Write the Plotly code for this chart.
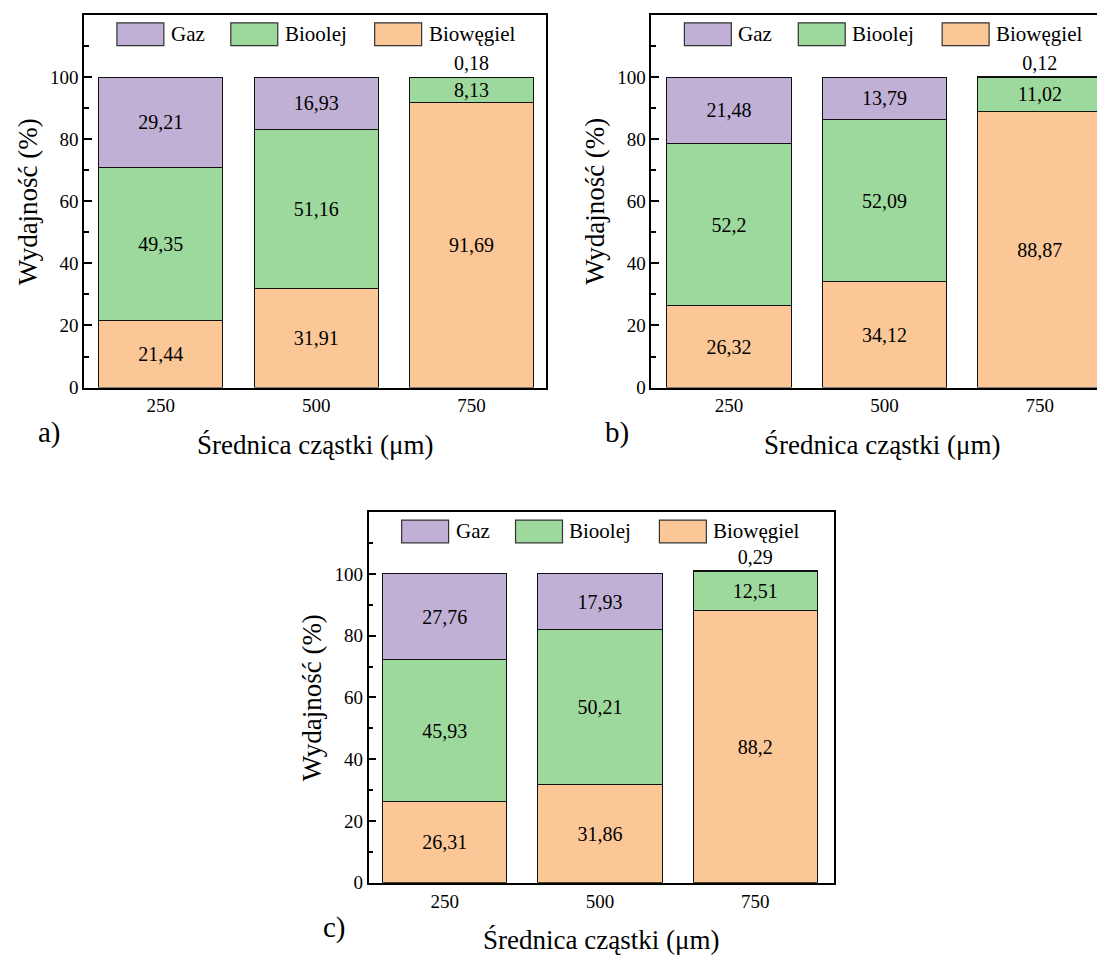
import plotly.graph_objects as go

# ---- data ----
categories = ["250", "500", "750"]
series_names = ["Biowęgiel", "Bioolej", "Gaz"]

a_biowegiel = [21.44, 31.91, 91.69]
a_bioolej = [49.35, 51.16, 8.13]
a_gaz = [29.21, 16.93, 0.18]

b_biowegiel = [26.32, 34.12, 88.87]
b_bioolej = [52.2, 52.09, 11.02]
b_gaz = [21.48, 13.79, 0.12]

c_biowegiel = [26.31, 31.86, 88.2]
c_bioolej = [45.93, 50.21, 12.51]
c_gaz = [27.76, 17.93, 0.29]

y_ticks = [0, 20, 40, 60, 80, 100]
y_minor = [10, 30, 50, 70, 90, 110]

colors = {"Gaz": "#C1B0D6", "Bioolej": "#9DD89D", "Biowęgiel": "#FBC797"}

OFF = 8  # page body margin
W, H = 1105 - OFF, 965 - OFF
FONT = "Liberation Serif"


def X(px):
    return (px - OFF) / W


def Y(py):
    return 1 - (py - OFF) / H


def fmt(v):
    return f"{v:g}".replace(".", ",")


def fnt(size):
    return dict(family=FONT, size=size, color="black")


panels = [
    ("a", (a_biowegiel, a_bioolej, a_gaz), 84, 546, 15, 392, [-0.495, 2.476]),
    ("b", (b_biowegiel, b_bioolej, b_gaz), 652, 1104, 15, 392, [-0.5, 2.407]),
    ("c", (c_biowegiel, c_bioolej, c_gaz), 369, 835, 518, 893, [-0.489, 2.508]),
]

fig = go.Figure()
annotations = []
shapes = []

for i, (name, data, L, R, T, B, xr) in enumerate(panels):
    ax = "" if i == 0 else str(i + 1)
    for sname, vals in zip(series_names, data):
        if sname == "Gaz":
            tpos = ["inside", "inside", "outside"]
        else:
            tpos = "inside"
        fig.add_trace(go.Bar(
            x=categories, y=vals, name=sname,
            xaxis="x" + ax, yaxis="y" + ax,
            marker=dict(color=colors[sname], line=dict(color="#111111", width=1)),
            text=[fmt(v) for v in vals], textposition=tpos,
            insidetextanchor="middle", constraintext="none",
            textfont=fnt(20),
            cliponaxis=False, showlegend=False, width=0.8,
        ))
    fig.layout["xaxis" + ax] = dict(
        domain=[X(L), X(R)], range=xr, anchor="y" + ax,
        showline=True, linecolor="black", linewidth=2, mirror=True,
        ticks="", tickfont=fnt(19),
        showgrid=False, zeroline=False, type="category",
    )
    fig.layout["yaxis" + ax] = dict(
        domain=[Y(B), Y(T)], range=[0, 120], anchor="x" + ax,
        showline=True, linecolor="black", linewidth=1.5, mirror=True,
        tickvals=y_ticks, ticks="inside", ticklen=8, tickwidth=1.5, tickcolor="black",
        minor=dict(tickvals=y_minor, ticks="inside", ticklen=5, tickwidth=1.5, tickcolor="black"),
        tickfont=fnt(19),
        showgrid=False, zeroline=False,
    )
    leg_items = [("Gaz", 33), ("Bioolej", 147), ("Biowęgiel", 291)]
    by0, by1 = T + 8, T + 31
    for lname, off in leg_items:
        x0 = L + off
        shapes.append(dict(type="rect", xref="paper", yref="paper",
                           x0=X(x0), x1=X(x0 + 47), y0=Y(by1), y1=Y(by0),
                           fillcolor=colors[lname], line=dict(color="#333333", width=1.2)))
        annotations.append(dict(text=lname, xref="paper", yref="paper",
                                x=X(x0 + 52), y=Y((by0 + by1) / 2), xanchor="left", yanchor="middle",
                                showarrow=False, font=fnt(21)))
    cx = (L + (L + 462 if name == "b" else R)) / 2
    annotations.append(dict(text="Średnica cząstki (μm)", xref="paper", yref="paper",
                            x=X(cx), y=Y(B + 58), xanchor="center", yanchor="middle",
                            showarrow=False, font=fnt(27)))
    annotations.append(dict(text="Wydajność (%)", xref="paper", yref="paper",
                            x=X(L - 56), y=Y((T + B) / 2), xanchor="center", yanchor="middle",
                            textangle=-90, showarrow=False, font=fnt(27)))
    annotations.append(dict(text=name + ")", xref="paper", yref="paper",
                            x=X(L - 34), y=Y(B + 45), xanchor="center", yanchor="middle",
                            showarrow=False, font=fnt(29)))

fig.update_layout(
    width=W, height=H, margin=dict(l=0, r=0, t=0, b=0),
    barmode="stack", bargap=0.2,
    paper_bgcolor="white", plot_bgcolor="white",
    annotations=annotations, shapes=shapes,
)

fig.write_html("out.html")
